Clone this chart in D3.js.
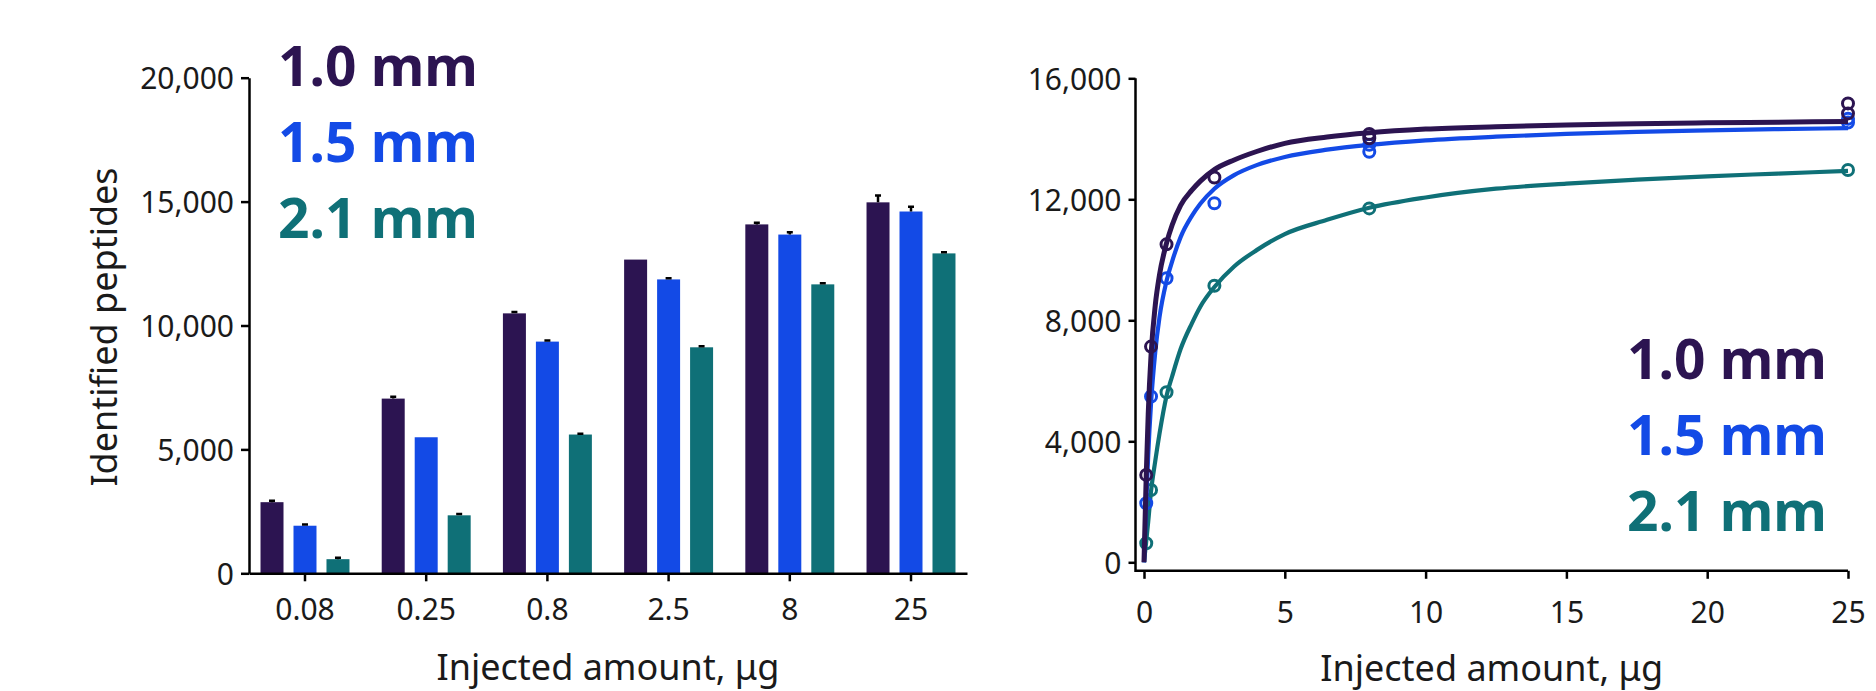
<!DOCTYPE html>
<html>
<head>
<meta charset="utf-8">
<script src="https://cdn.jsdelivr.net/npm/d3@7"></script>
<style>
  body { margin: 0; background: #fff; }
  svg { display: block; font-family: "Noto Sans", sans-serif; }
</style>
</head>
<body>
<svg id="chart" width="1876" height="691"></svg>
<script>
// injected amounts, ug
var amountLabels = ["0.08", "0.25", "0.8", "2.5", "8", "25"];
var amounts = [0.08, 0.25, 0.8, 2.5, 8, 25];
var columns = ["1.0 mm", "1.5 mm", "2.1 mm"];

// mean identified peptides (bars)
var peptides10 = [2870, 7050, 10490, 12660, 14080, 14970];
var peptides15 = [1920, 5490, 9350, 11860, 13670, 14600];
var peptides21 = [570, 2340, 5600, 9120, 11660, 12910];

// upper error bars
var err10 = [60, 70, 50, 0, 70, 280];
var err15 = [50, 0, 40, 50, 90, 190];
var err21 = [60, 50, 30, 40, 40, 50];

// replicate points (right panel)
var points10X = [0.08, 0.25, 0.8, 2.5, 8, 8, 25, 25];
var points10Y = [2890, 7130, 10510, 12720, 14160, 14020, 15170, 14840];
var points15X = [0.08, 0.25, 0.8, 2.5, 8, 8, 25, 25];
var points15Y = [1950, 5480, 9390, 11870, 13800, 13570, 14660, 14540];
var points21X = [0.08, 0.25, 0.8, 2.5, 8, 25];
var points21Y = [630, 2390, 5620, 9140, 11700, 12970];

// fitted curves
var fitX  = [0, 0.08, 0.15, 0.25, 0.4, 0.55, 0.8, 1, 1.3, 1.7, 2, 2.5, 3.2, 4, 5, 6.5, 8, 10, 12.5, 15, 17.5, 20, 22.5, 25];
var fit10 = [0, 2900, 4900, 6850, 8500, 9500, 10550, 11150, 11800, 12300, 12600, 12980, 13300, 13580, 13850, 14060, 14200, 14320, 14400, 14460, 14500, 14530, 14550, 14570];
var fit15 = [0, 1950, 3550, 5250, 6950, 8100, 9300, 9950, 10750, 11450, 11850, 12350, 12800, 13130, 13400, 13640, 13800, 13950, 14070, 14160, 14230, 14280, 14320, 14350];
var fit21 = [0, 700, 1350, 2350, 3350, 4250, 5500, 6150, 7050, 7900, 8450, 9100, 9780, 10320, 10850, 11320, 11720, 12060, 12350, 12520, 12650, 12760, 12850, 12940];

var yTicksLeft = [0, 5000, 10000, 15000, 20000];
var yTicksRight = [0, 4000, 8000, 12000, 16000];
var xTicksRight = [0, 5, 10, 15, 20, 25];

var colors = ["#2c1451", "#134ae6", "#0f7077"];
var textColor = "#1a1a1a";

var svg = d3.select("#chart");
var fmt = d3.format(",");

drawBars();
drawCurves();

function styleAxis(g) {
    g.selectAll("path, line").attr("stroke", "#000").attr("stroke-width", 2.5);
    g.selectAll("text")
        .attr("fill", textColor)
        .style("font-size", "30px")
        .style("font-family", "'Noto Sans', sans-serif");
}

function drawLegend(x, y0, anchor) {
    var leg = svg.append("g");
    leg.selectAll("text").data(columns).enter().append("text")
        .attr("x", x)
        .attr("y", function(d, i){ return y0 + i * 76; })
        .attr("text-anchor", anchor)
        .attr("fill", function(d, i){ return colors[i]; })
        .style("font-size", "55px")
        .style("font-weight", "bold")
        .text(function(d){ return d; });
}

function drawBars() {
    var values = [peptides10, peptides15, peptides21];
    var errors = [err10, err15, err21];

    var x = d3.scaleBand().domain(amountLabels).range([249, 967])
        .paddingInner(0.266).paddingOuter(0.095);
    var xSub = d3.scaleBand().domain(columns).range([0, x.bandwidth()])
        .paddingInner(0.303);
    var y = d3.scaleLinear().domain([0, 20000]).range([573.3, 77.7]);

    var groups = svg.append("g").selectAll("g")
        .data(amountLabels).enter().append("g")
        .attr("transform", function(d){ return "translate(" + x(d) + ",0)"; });

    columns.forEach(function(col, s) {
        groups.append("rect")
            .attr("x", xSub(col))
            .attr("width", xSub.bandwidth())
            .attr("y", function(d, i){ return y(values[s][i]); })
            .attr("height", function(d, i){ return y(0) - y(values[s][i]); })
            .attr("fill", colors[s]);

        // error bars: stem + cap
        groups.filter(function(d, i){ return errors[s][i] > 0; })
            .append("path")
            .attr("d", function(d) {
                var i = amountLabels.indexOf(d);
                var cx = xSub(col) + xSub.bandwidth() / 2;
                var top = y(values[s][i] + errors[s][i]);
                return "M" + cx + "," + y(values[s][i]) + "V" + top +
                    "M" + (cx - 3) + "," + top + "H" + (cx + 3);
            })
            .attr("stroke", "#000")
            .attr("stroke-width", 2.5)
            .attr("fill", "none");
    });

    var yAxis = svg.append("g")
        .attr("transform", "translate(249,0)")
        .call(d3.axisLeft(y).tickValues(yTicksLeft).tickFormat(fmt)
            .tickSize(8).tickSizeOuter(0).tickPadding(7));
    styleAxis(yAxis);
    yAxis.selectAll("text").attr("dy", "0.36em");

    var xAxis = svg.append("g")
        .attr("transform", "translate(0," + y(0) + ")")
        .call(d3.axisBottom(x).tickSize(8).tickSizeOuter(0));
    styleAxis(xAxis);
    xAxis.selectAll("text").attr("dy", null).attr("y", 47);

    svg.append("text")
        .attr("transform", "translate(117,327) rotate(-90)")
        .attr("text-anchor", "middle")
        .attr("fill", textColor)
        .style("font-size", "36px")
        .text("Identified peptides");

    svg.append("text")
        .attr("x", (x.range()[0] + x.range()[1]) / 2)
        .attr("y", 680)
        .attr("text-anchor", "middle")
        .attr("fill", textColor)
        .style("font-size", "36px")
        .text("Injected amount, \u03bcg");

    drawLegend(278, 86, "start");
}

function drawCurves() {
    var fits = [fit10, fit15, fit21];
    var px = [points10X, points15X, points21X];
    var py = [points10Y, points15Y, points21Y];
    var offset = 8.5;

    var x = d3.scaleLinear().domain([0, 25]).range([1144, 1848]);
    var y = d3.scaleLinear().domain([0, 16000]).range([562.3, 78.3]);

    var line = d3.line()
        .x(function(d){ return x(d[0]); })
        .y(function(d){ return y(d[1]); })
        .curve(d3.curveMonotoneX);

    // draw teal first so the dark curve ends up on top
    [2, 1, 0].forEach(function(s) {
        var pts = fitX.map(function(v, i){ return [v, fits[s][i]]; });
        svg.append("path")
            .datum(pts)
            .attr("d", line)
            .attr("fill", "none")
            .attr("stroke", colors[s])
            .attr("stroke-width", s == 0 ? 5 : 4.2)
            .attr("stroke-linecap", "butt");

        svg.append("g").selectAll("circle")
            .data(px[s]).enter().append("circle")
            .attr("cx", function(d){ return x(d); })
            .attr("cy", function(d, i){ return y(py[s][i]); })
            .attr("r", 5.5)
            .attr("fill", "none")
            .attr("stroke", colors[s])
            .attr("stroke-width", 3);
    });

    var yAxis = svg.append("g")
        .attr("transform", "translate(" + (x(0) - offset) + ",0)")
        .call(d3.axisLeft(y).tickValues(yTicksRight).tickFormat(fmt)
            .tickSize(7).tickSizeOuter(0).tickPadding(7));
    yAxis.select(".domain").remove();
    styleAxis(yAxis);
    yAxis.selectAll("text").attr("dy", "0.36em");

    var xAxis = svg.append("g")
        .attr("transform", "translate(0," + (y(0) + offset) + ")")
        .call(d3.axisBottom(x).tickValues(xTicksRight).tickSize(8).tickSizeOuter(0));
    xAxis.select(".domain").remove();
    styleAxis(xAxis);
    xAxis.selectAll("text").attr("dy", null).attr("y", 52);

    // offset axis lines meeting at the corner
    svg.append("path")
        .attr("d", "M" + (x(0) - offset) + "," + y(16000) +
            "V" + (y(0) + offset) + "H" + x(25))
        .attr("fill", "none")
        .attr("stroke", "#000")
        .attr("stroke-width", 2.5);

    svg.append("text")
        .attr("x", (x(0) - offset + x(25)) / 2)
        .attr("y", 681)
        .attr("text-anchor", "middle")
        .attr("fill", textColor)
        .style("font-size", "36px")
        .text("Injected amount, \u03bcg");

    drawLegend(1827, 379, "end");
}
</script>
</body>
</html>
